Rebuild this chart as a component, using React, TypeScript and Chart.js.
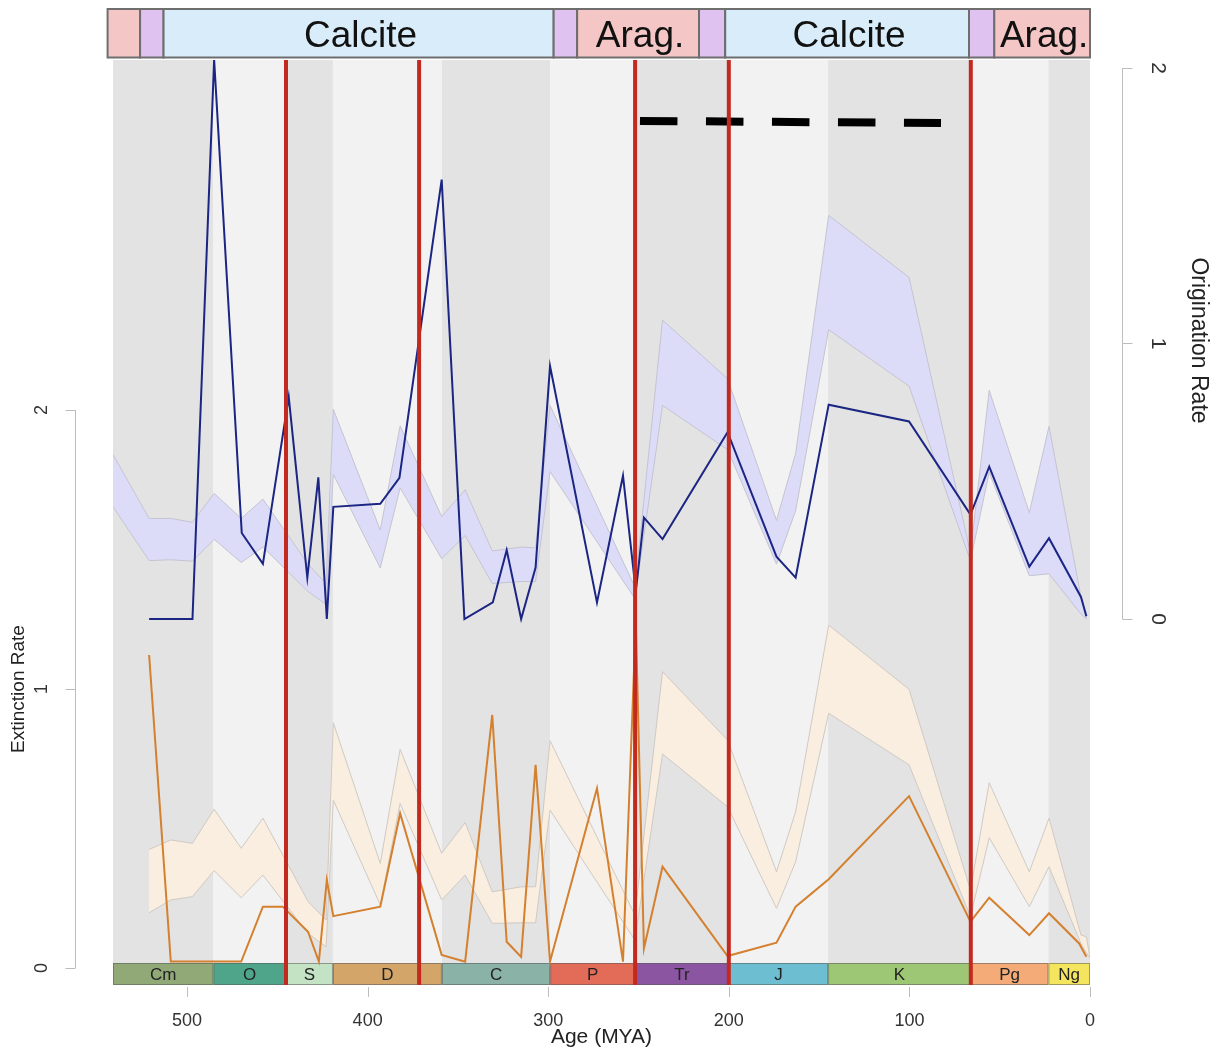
import { useEffect, useRef } from "react";
import { Chart, registerables } from "chart.js";

Chart.register(...registerables);

const FONT = '"Liberation Sans", Arial, Helvetica, sans-serif';

// ---- Origination (right axis) ----
const originationAges = [521, 497, 485, 469.7, 458, 443.7, 433.4, 427.3, 422.6, 419, 393, 382.4, 359, 346.4, 330.7, 323, 315, 307, 299, 273, 258.6, 251.5, 247, 236.7, 200.7, 173.6, 163, 144.7, 100.2, 66.2, 55.8, 33.6, 22.7, 5, 2];
const originationRate = [0, 0, 2.03, 0.312, 0.2, 0.806, 0.15, 0.514, 0, 0.407, 0.418, 0.512, 1.595, 0, 0.06, 0.25, 0, 0.187, 0.918, 0.06, 0.52, 0.1, 0.368, 0.29, 0.678, 0.226, 0.15, 0.778, 0.717, 0.379, 0.553, 0.19, 0.293, 0.08, 0.01];

const originationBandAges = [541, 521, 509, 497, 485, 470, 458, 433, 423, 419, 393, 382, 359, 346, 331, 315, 307, 299, 252, 236.7, 200.7, 173.6, 163, 144.7, 100.2, 66.2, 55.8, 33.6, 22.7, 5, 2];
const originationUpper = [0.597, 0.365, 0.365, 0.351, 0.456, 0.365, 0.435, 0.199, 0.129, 0.761, 0.323, 0.701, 0.372, 0.469, 0.247, 0.261, 0.258, 0.775, 0.116, 1.085, 0.872, 0.358, 0.601, 1.465, 1.24, 0.24, 0.83, 0.386, 0.699, 0.08, 0];
const originationLower = [0.407, 0.212, 0.215, 0.21, 0.289, 0.205, 0.261, 0.1, 0.053, 0.525, 0.185, 0.476, 0.219, 0.303, 0.129, 0.136, 0.136, 0.535, 0.074, 0.775, 0.615, 0.199, 0.393, 1.05, 0.845, 0.212, 0.532, 0.157, 0.164, 0.018, 0];

// ---- Extinction (left axis) ----
const extinctionAges = [521, 509, 470, 458, 447, 433, 427, 422.6, 419, 393, 382, 359, 346, 331, 323, 315, 307, 299, 273, 258.6, 251.5, 247, 236.7, 200.7, 173.6, 163, 144.7, 100.2, 66.2, 55.8, 33.6, 22.7, 6, 2];
const extinctionRate = [1.122, 0.023, 0.023, 0.22, 0.22, 0.13, 0.023, 0.315, 0.186, 0.22, 0.554, 0.047, 0.023, 0.907, 0.094, 0.04, 0.728, 0.023, 0.644, 0.023, 1.24, 0.07, 0.363, 0.043, 0.091, 0.22, 0.318, 0.616, 0.166, 0.252, 0.118, 0.196, 0.088, 0.04];

const extinctionBandAges = [521, 509, 497, 485, 470, 458, 433, 423, 419, 393, 382, 359, 346, 331, 315, 307, 299, 252, 236.7, 200.7, 173.6, 163, 144.7, 100.2, 66.2, 55.8, 33.6, 22.7, 5, 2, 0];
const extinctionUpper = [0.425, 0.459, 0.447, 0.569, 0.429, 0.537, 0.238, 0.172, 0.879, 0.375, 0.784, 0.411, 0.521, 0.273, 0.291, 0.291, 0.815, 0.19, 1.062, 0.817, 0.345, 0.56, 1.229, 0.999, 0.28, 0.664, 0.345, 0.537, 0.118, 0.112, 0.036];
const extinctionLower = [0.198, 0.244, 0.256, 0.349, 0.252, 0.333, 0.124, 0.076, 0.602, 0.226, 0.59, 0.244, 0.333, 0.16, 0.162, 0.162, 0.566, 0.1, 0.767, 0.578, 0.214, 0.381, 0.913, 0.728, 0.184, 0.467, 0.22, 0.363, 0.088, 0.054, 0.036];

// ---- Dashed reference line (origination axis) ----
const dashAges = [249.2, 82.5];
const dashLevel = [1.808, 1.8];

// ---- Geological periods ----
const periodBounds = [541, 485.4, 445.2, 419.2, 358.9, 298.9, 251.9, 200, 145, 66, 23.03, 0];
const periodLabels = ["Cm", "O", "S", "D", "C", "P", "Tr", "J", "K", "Pg", "Ng"];
const periodColors = ["#90a977", "#4fa58a", "#c4e2c4", "#d3a569", "#8ab2a7", "#e36c58", "#8b55a1", "#6ebed1", "#9dc775", "#f4ab78", "#f5e45e"];

// ---- Sea chemistry band ----
const seaBounds = [544, 526, 513, 297, 284, 216.5, 202, 67, 53, 0];
const seaLabels = ["", "", "Calcite", "", "Arag.", "", "Calcite", "", "Arag."];
const seaColors = ["#f4c6c5", "#dfc2f0", "#d8edf9", "#dfc2f0", "#f4c6c5", "#dfc2f0", "#d8edf9", "#dfc2f0", "#f4c6c5"];

// ---- Mass extinction markers ----
const extinctionEvents = [445.2, 371.5, 251.9, 200, 66];

// ---- Ticks ----
const xTicks = [500, 400, 300, 200, 100, 0];
const extTicks = [0, 1, 2];
const origTicks = [0, 1, 2];

function drawText(ctx: CanvasRenderingContext2D, s: string, x: number, y: number, size: number, rot = 0, color = "#222", baseline: CanvasTextBaseline = "middle") {
  ctx.save();
  ctx.translate(x, y);
  ctx.rotate(rot);
  ctx.font = `${size}px ${FONT}`;
  ctx.fillStyle = color;
  ctx.textAlign = "center";
  ctx.textBaseline = baseline;
  ctx.fillText(s, 0, 0);
  ctx.restore();
}

const decorPlugin = {
  id: "decor",
  beforeDraw(chart: any) {
    const { ctx, chartArea: ca, scales } = chart;
    const xs = scales.x;
    const barTop = ca.bottom - 22;
    ctx.save();
    // stripes
    for (let i = 0; i < periodLabels.length; i++) {
      const x1 = xs.getPixelForValue(periodBounds[i]);
      const x2 = xs.getPixelForValue(periodBounds[i + 1]);
      ctx.fillStyle = i % 2 === 0 ? "#e3e3e3" : "#f2f2f2";
      ctx.fillRect(x1, ca.top, x2 - x1, barTop - ca.top);
    }
    // period bar
    for (let i = 0; i < periodLabels.length; i++) {
      const x1 = xs.getPixelForValue(periodBounds[i]);
      const x2 = xs.getPixelForValue(periodBounds[i + 1]);
      ctx.fillStyle = periodColors[i];
      ctx.fillRect(x1, barTop, x2 - x1, ca.bottom - barTop);
      ctx.strokeStyle = "rgba(90,90,90,0.55)";
      ctx.lineWidth = 1;
      ctx.strokeRect(x1 + 0.5, barTop + 0.5, x2 - x1 - 1, ca.bottom - barTop - 1);
      drawText(ctx, periodLabels[i], (x1 + x2) / 2, (barTop + ca.bottom) / 2 + 1, 17, 0, "#222");
    }
    // sea chemistry band
    const top = 1;
    const bottom = ca.top - 2.5;
    for (let i = 0; i < seaLabels.length; i++) {
      const x1 = xs.getPixelForValue(seaBounds[i]);
      const x2 = xs.getPixelForValue(seaBounds[i + 1]);
      ctx.fillStyle = seaColors[i];
      ctx.fillRect(x1, top, x2 - x1, bottom - top);
      ctx.strokeStyle = "#6e6e6e";
      ctx.lineWidth = 2;
      ctx.strokeRect(x1, top, x2 - x1, bottom - top);
      if (seaLabels[i]) {
        drawText(ctx, seaLabels[i], (x1 + x2) / 2 + 2, 39, 37, 0, "#111", "alphabetic");
      }
    }
    ctx.restore();
  },
  afterDatasetsDraw(chart: any) {
    const { ctx, chartArea: ca, scales } = chart;
    ctx.save();
    ctx.strokeStyle = "#c22a20";
    ctx.lineWidth = 4;
    for (const a of extinctionEvents) {
      const x = scales.x.getPixelForValue(a);
      ctx.beginPath();
      ctx.moveTo(x, ca.top);
      ctx.lineTo(x, ca.bottom);
      ctx.stroke();
    }
    ctx.restore();
  },
  afterDraw(chart: any) {
    const { ctx, chartArea: ca, scales } = chart;
    const xs = scales.x;
    const ys = scales.y;
    const y2 = scales.y2;
    ctx.save();
    ctx.strokeStyle = "#bdbdbd";
    ctx.lineWidth = 1;
    // left axis
    const lx = 67.5;
    ctx.beginPath();
    ctx.moveTo(lx, ys.getPixelForValue(extTicks[0]));
    ctx.lineTo(lx, ys.getPixelForValue(extTicks[extTicks.length - 1]));
    for (const t of extTicks) {
      const y = Math.round(ys.getPixelForValue(t)) + 0.5;
      ctx.moveTo(lx, y);
      ctx.lineTo(lx - 10, y);
    }
    ctx.stroke();
    for (const t of extTicks) {
      drawText(ctx, String(t), 34, ys.getPixelForValue(t), 18, -Math.PI / 2, "#333");
    }
    drawText(ctx, "Extinction Rate", 11, ys.getPixelForValue(1), 19, -Math.PI / 2, "#222");
    // right axis
    const rx = 1114.5;
    ctx.beginPath();
    ctx.moveTo(rx, y2.getPixelForValue(origTicks[0]));
    ctx.lineTo(rx, y2.getPixelForValue(origTicks[origTicks.length - 1]));
    for (const t of origTicks) {
      const y = Math.round(y2.getPixelForValue(t)) + 0.5;
      ctx.moveTo(rx, y);
      ctx.lineTo(rx + 10, y);
    }
    ctx.stroke();
    for (const t of origTicks) {
      drawText(ctx, String(t), 1150, y2.getPixelForValue(t), 21, Math.PI / 2, "#333");
    }
    drawText(ctx, "Origination Rate", 1190, y2.getPixelForValue(1) - 3, 23, Math.PI / 2, "#222");
    // x axis
    ctx.beginPath();
    for (const t of xTicks) {
      const x = Math.round(xs.getPixelForValue(t)) + 0.5;
      ctx.moveTo(x, ca.bottom + 2);
      ctx.lineTo(x, ca.bottom + 12);
    }
    ctx.stroke();
    for (const t of xTicks) {
      drawText(ctx, String(t), xs.getPixelForValue(t), 1018, 18, 0, "#333", "alphabetic");
    }
    drawText(ctx, "Age (MYA)", (ca.left + ca.right) / 2, 1035, 21, 0, "#222", "alphabetic");
    ctx.restore();
  },
};

function pts(xs: number[], ys: number[]) {
  return xs.map((x, i) => ({ x, y: ys[i] }));
}

export default function App() {
  const ref = useRef<HTMLCanvasElement>(null);
  useEffect(() => {
    const canvas = ref.current;
    if (!canvas) return;
    const base = { pointRadius: 0, pointHoverRadius: 0, tension: 0 };
    const chart = new Chart(canvas, {
      type: "line",
      data: {
        datasets: [
          { ...base, label: "dash", data: pts(dashAges, dashLevel), yAxisID: "y2", borderColor: "#000", borderWidth: 8, borderDash: [37.5, 28.5], borderCapStyle: "butt", fill: false, order: 0 },
          { ...base, label: "Origination", data: pts(originationAges, originationRate), yAxisID: "y2", borderColor: "#1b2583", borderWidth: 2, fill: false, order: 1 },
          { ...base, label: "Extinction", data: pts(extinctionAges, extinctionRate), yAxisID: "y", borderColor: "#d4802e", borderWidth: 2, fill: false, order: 1 },
          { ...base, label: "origUpper", data: pts(originationBandAges, originationUpper), yAxisID: "y2", borderColor: "#c4c4d2", borderWidth: 1, backgroundColor: "#dcdcf8", fill: "+1", order: 6 },
          { ...base, label: "origLower", data: pts(originationBandAges, originationLower), yAxisID: "y2", borderColor: "#c4c4d2", borderWidth: 1, fill: false, order: 5 },
          { ...base, label: "extUpper", data: pts(extinctionBandAges, extinctionUpper), yAxisID: "y", borderColor: "#cfcac4", borderWidth: 1, backgroundColor: "#faeee0", fill: "+1", order: 8 },
          { ...base, label: "extLower", data: pts(extinctionBandAges, extinctionLower), yAxisID: "y", borderColor: "#cfcac4", borderWidth: 1, fill: false, order: 7 },
        ] as any,
      },
      options: {
        responsive: false,
        animation: false,
        events: [],
        layout: { padding: { left: 105, right: 127, top: 52, bottom: 64 } },
        plugins: { legend: { display: false }, tooltip: { enabled: false } },
        scales: {
          x: { type: "linear", reverse: true, min: 0, max: 541, display: false },
          y: { type: "linear", min: -0.0609, max: 3.2545, display: false },
          y2: { type: "linear", position: "right", min: -1.3285, max: 2.029, display: false },
        },
      },
      plugins: [decorPlugin],
    });
    return () => chart.destroy();
  }, []);
  return (
    <div style={{ width: 1209, height: 1041 }}>
      <canvas ref={ref} width={1209} height={1041} style={{ display: "block" }} />
    </div>
  );
}
